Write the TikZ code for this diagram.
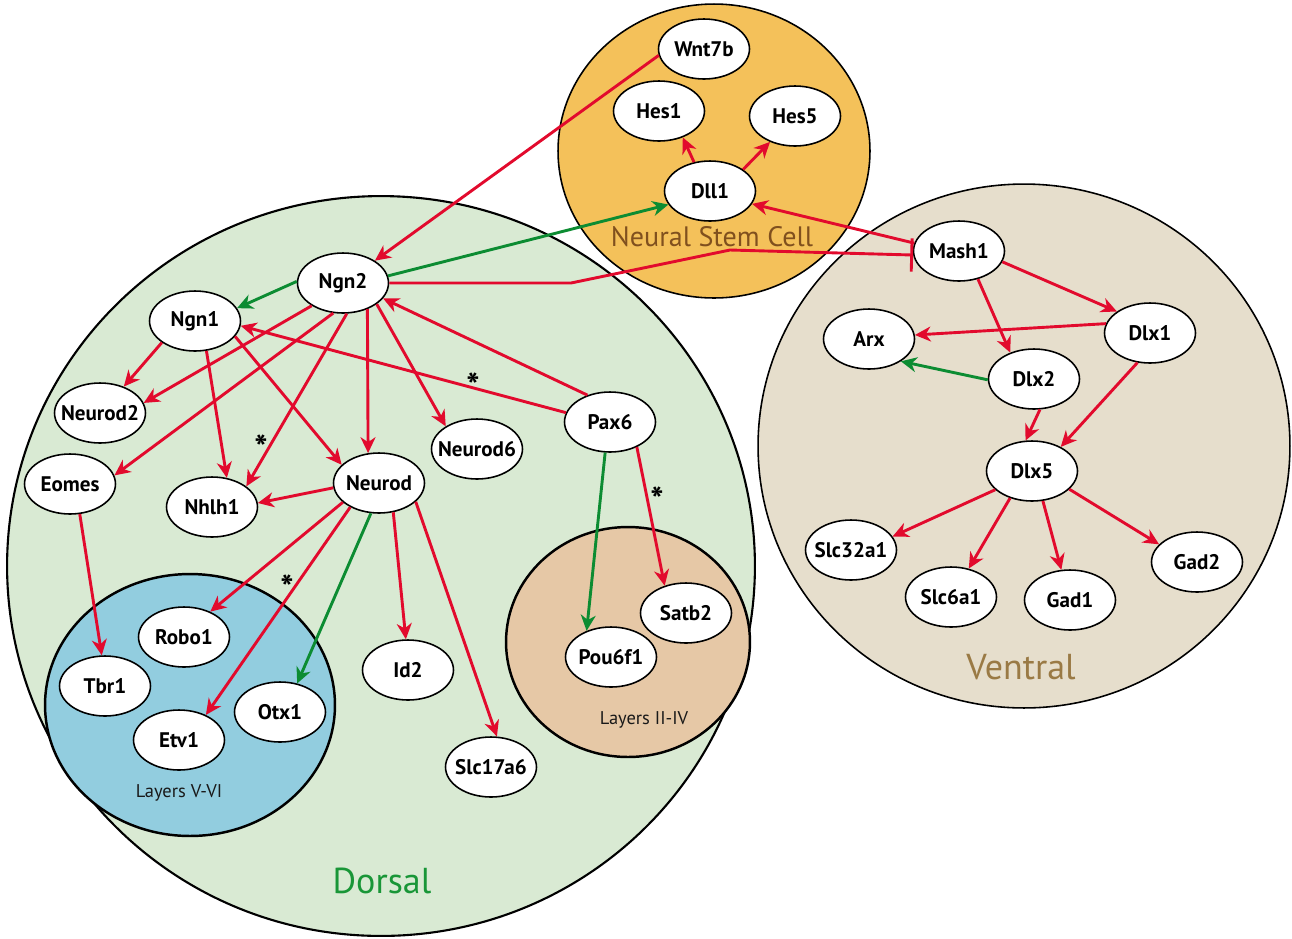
\documentclass[tikz,border=0pt]{standalone}
\usepackage{fontspec}
\setmainfont{PT Sans}
\usetikzlibrary{shapes.geometric,arrows.meta}
\definecolor{redc}{RGB}{226,10,45}
\definecolor{greenc}{RGB}{12,140,50}
\definecolor{dorsfill}{RGB}{217,234,211}
\definecolor{nscfill}{RGB}{244,193,90}
\definecolor{ventfill}{RGB}{230,222,204}
\definecolor{bluefill}{RGB}{146,205,223}
\definecolor{tanfill}{RGB}{230,200,166}
\definecolor{nsctext}{RGB}{128,80,30}
\definecolor{dorstext}{RGB}{25,150,55}
\definecolor{venttext}{RGB}{154,122,69}
\definecolor{laytext}{RGB}{25,25,25}
\newcommand\gn[1]{\makebox[0pt]{#1}}
\begin{document}
\begin{tikzpicture}[x=0.02cm,y=-0.02cm,
  gene/.style={ellipse, draw=black, line width=0.9pt, fill=white,
    minimum width=1.82cm, minimum height=1.2cm, inner sep=0pt,
    font=\fontsize{12}{12}\selectfont\bfseries},
  act/.style={draw=redc, line width=1.65pt, -{Stealth[length=9pt,width=8.5pt,inset=2.8pt]}},
  gact/.style={act, draw=greenc, -{Stealth[length=9pt,width=8.5pt,inset=2.8pt,color=greenc]}},
  inh/.style={draw=redc, line width=1.65pt, -{Bar[width=19pt]}},
  region/.style={draw=black},
  star/.style={font=\fontsize{20}{20}\selectfont\bfseries, inner sep=0pt},
  reglabel/.style={inner sep=0pt}
]
\useasboundingbox (0,0) rectangle (1292,938);
% regions
\filldraw[region, fill=dorsfill, line width=1.2pt] (381,566) ellipse [x radius=7.48cm, y radius=7.4cm];
\filldraw[region, fill=ventfill, line width=0.9pt] (1024,446) ellipse [x radius=5.32cm, y radius=5.24cm];
\filldraw[region, fill=nscfill, line width=0.9pt] (714,151) ellipse [x radius=3.12cm, y radius=2.94cm];
\filldraw[region, fill=bluefill, line width=1.4pt] (190,705) ellipse [x radius=2.9cm, y radius=2.62cm];
\filldraw[region, fill=tanfill, line width=1.4pt] (628,642) ellipse [x radius=2.44cm, y radius=2.3cm];
% region labels
\node[reglabel, text=nsctext, font=\fontsize{16}{16}\selectfont] (lblNSC) at (712,237) {Neural Stem Cell};
\node[reglabel, text=dorstext, font=\fontsize{20.5}{21}\selectfont] (lblD) at (382,881) {Dorsal};
\node[reglabel, text=venttext, font=\fontsize{20.5}{21}\selectfont] (lblV) at (1021,667) {Ventral};
\node[reglabel, text=laytext, font=\fontsize{10.5}{11}\selectfont] (lblA) at (179,793) {Layers V-VI};
\node[reglabel, text=laytext, font=\fontsize{10.5}{11}\selectfont] (lblB) at (644,720) {Layers II-IV};
% genes
\node[gene] (Wnt7b) at (704,49) {\gn{Wnt7b}};
\node[gene] (Hes1) at (659,111) {\gn{Hes1}};
\node[gene] (Hes5) at (795,116) {\gn{Hes5}};
\node[gene] (Dll1) at (710,191) {\gn{Dll1}};
\node[gene] (Ngn2) at (343,283) {\gn{Ngn2}};
\node[gene] (Ngn1) at (195,321) {\gn{Ngn1}};
\node[gene] (Neurod2) at (100,413) {\gn{Neurod2}};
\node[gene] (Eomes) at (70,484) {\gn{Eomes}};
\node[gene] (Nhlh1) at (212,507) {\gn{Nhlh1}};
\node[gene] (Neurod) at (379,483) {\gn{Neurod}};
\node[gene] (Neurod6) at (477,449) {\gn{Neurod6}};
\node[gene] (Pax6) at (610,422) {\gn{Pax6}};
\node[gene] (Tbr1) at (105,686) {\gn{Tbr1}};
\node[gene] (Robo1) at (184,637) {\gn{Robo1}};
\node[gene] (Etv1) at (179,740) {\gn{Etv1}};
\node[gene] (Otx1) at (280,712) {\gn{Otx1}};
\node[gene] (Id2) at (408,670) {\gn{Id2}};
\node[gene] (Slc17a6) at (491,767) {\gn{Slc17a6}};
\node[gene] (Satb2) at (686,613) {\gn{Satb2}};
\node[gene] (Pou6f1) at (611,657) {\gn{Pou6f1}};
\node[gene] (Mash1) at (959,251) {\gn{Mash1}};
\node[gene] (Arx) at (869,339) {\gn{Arx}};
\node[gene] (Dlx1) at (1150,333) {\gn{Dlx1}};
\node[gene] (Dlx2) at (1034,379) {\gn{Dlx2}};
\node[gene] (Dlx5) at (1032,471) {\gn{Dlx5}};
\node[gene] (Slc32a1) at (851,550) {\gn{Slc32a1}};
\node[gene] (Slc6a1) at (951,597) {\gn{Slc6a1}};
\node[gene] (Gad1) at (1070,600) {\gn{Gad1}};
\node[gene] (Gad2) at (1197,562) {\gn{Gad2}};
% neural stem cell
\draw[act] (Wnt7b.188) -- (Ngn2.35);
\draw[act] (Dll1.119) -- (Hes1.312);
\draw[act] (Dll1.33) -- (Hes5.226);
\draw[gact] (Ngn2.9) -- (Dll1.198);
\draw[act] (Mash1.170) -- (Dll1.343);
\draw[inh] (Ngn2.east) -- (571,283) -- (730,250) -- (Mash1.185);
% dorsal
\draw[gact] (Ngn2.178) -- (Ngn1.17);
\draw[act] (Ngn2.216) -- (Neurod2.13);
\draw[act] (Ngn2.252) -- (Eomes.11);
\draw[act] (Ngn2.277) -- (Nhlh1.31);
\draw[act] (Ngn2.313) -- (Neurod.110);
\draw[act] (Ngn2.328) -- (Neurod6.144);
\draw[act] (Pax6.130) -- (Ngn2.339);
\draw[act] (Pax6.168) -- (Ngn1.354);
\draw[act] (Ngn1.213) -- (Neurod2.48);
\draw[act] (Ngn1.291) -- (Nhlh1.63);
\draw[act] (Ngn1.339) -- (Neurod.154);
\draw[act] (Neurod.186) -- (Nhlh1.5);
\draw[act] (Neurod.208) -- (Robo1.44);
\draw[act] (Neurod.220) -- (Etv1.43);
\draw[gact] (Neurod.255) -- (Otx1.59);
\draw[act] (Neurod.296) -- (Id2.94);
\draw[act] (Neurod.333) -- (Slc17a6.79);
\draw[act] (Eomes.288) -- (Tbr1.96);
\draw[gact] (Pax6.261) -- (Pou6f1.133);
\draw[act] (Pax6.317) -- (Satb2.128);
% ventral
\draw[act] (Mash1.346) -- (Dlx1.147);
\draw[act] (Mash1.304) -- (Dlx2.132);
\draw[act] (Dlx1.168) -- (Arx.5);
\draw[gact] (Dlx2.181) -- (Arx.325);
\draw[act] (Dlx2.281) -- (Dlx5.102);
\draw[act] (Dlx1.247) -- (Dlx5.40);
\draw[act] (Dlx5.207) -- (Slc32a1.18);
\draw[act] (Dlx5.231) -- (Slc6a1.58);
\draw[act] (Dlx5.290) -- (Gad1.106);
\draw[act] (Dlx5.334) -- (Gad2.155);
% asterisks
\node[star] (s1) at (261,448) {*};
\node[star] (s2) at (473,386) {*};
\node[star] (s3) at (657,500) {*};
\node[star] (s4) at (287,588) {*};
\end{tikzpicture}
\end{document}
